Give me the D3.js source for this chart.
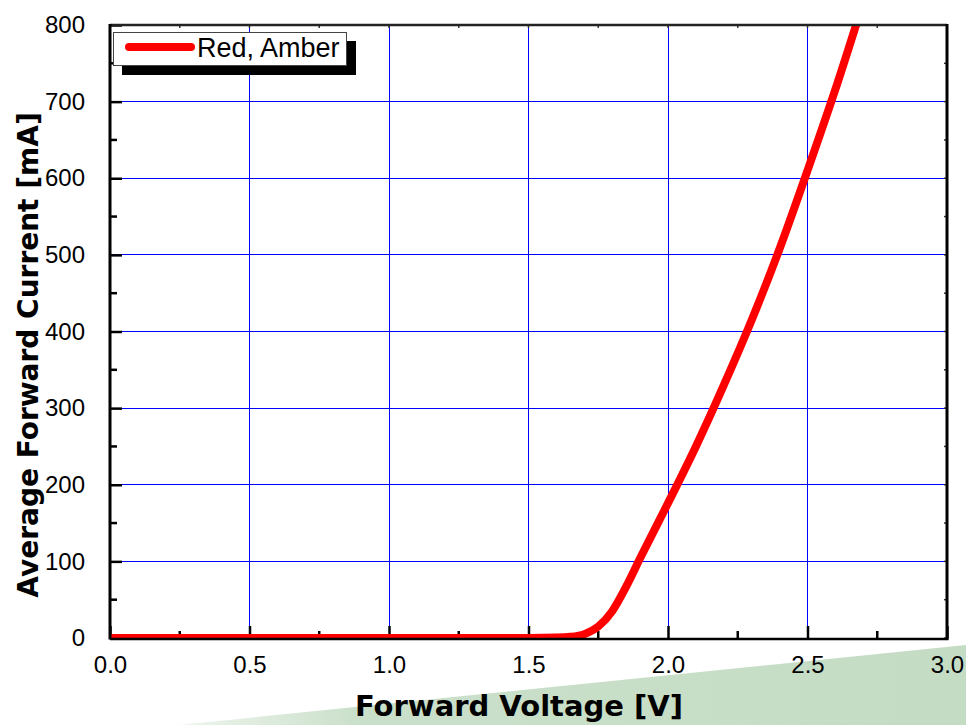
<!DOCTYPE html>
<html><head><meta charset="utf-8">
<script src="https://cdn.jsdelivr.net/npm/d3@7"></script>
<style>html,body{margin:0;padding:0;background:#fff;}svg{display:block;}</style>
</head><body>
<script>
const voltage = [0, 0.5, 1.0, 1.5, 1.6, 1.65, 1.7, 1.75, 1.8, 1.85, 1.9, 2.0, 2.1, 2.2, 2.3, 2.4, 2.5, 2.6, 2.7];
const current = [0, 0, 0, 0, 0.5, 1.5, 5, 15, 35, 67, 104, 176, 250, 330, 415, 508, 610, 716, 830];
const seriesName = "Red, Amber";
const xTicks = [0, 0.5, 1.0, 1.5, 2.0, 2.5, 3.0];
const yTicks = [0, 100, 200, 300, 400, 500, 600, 700, 800];
const xMinor = [0.25, 0.75, 1.25, 1.75, 2.25, 2.75];
const yMinor = [50, 150, 250, 350, 450, 550, 650, 750];

const W = 966, H = 725;
const L = 110, R = 947, T = 25, B = 638;
const svg = d3.select("body").append("svg").attr("width", W).attr("height", H);

// decorative green band
const defs = svg.append("defs");
const g1 = defs.append("linearGradient").attr("id","gfade").attr("x1","0").attr("x2","1").attr("y1","0").attr("y2","0");
g1.append("stop").attr("offset","0").attr("stop-color","#c4dcc4").attr("stop-opacity",0);
g1.append("stop").attr("offset","0.3").attr("stop-color","#c4dcc4").attr("stop-opacity",0.9);
g1.append("stop").attr("offset","1").attr("stop-color","#c4dcc4").attr("stop-opacity",1);
svg.append("path").attr("d","M100,733 L966,645 L966,725 L100,725 Z").attr("fill","url(#gfade)");

const x = d3.scaleLinear().domain([0, 3]).range([L, R]);
const y = d3.scaleLinear().domain([0, 800]).range([B, T]);

defs.append("clipPath").attr("id","clip").append("rect").attr("x",L).attr("y",T).attr("width",R-L).attr("height",B-T);

svg.append("rect").attr("x",L).attr("y",T).attr("width",R-L).attr("height",B-T).attr("fill","#fff");

// grid
svg.append("g").selectAll("line").data(xTicks.filter(v=>v>0&&v<3)).join("line")
  .attr("x1",d=>x(d)).attr("x2",d=>x(d)).attr("y1",T).attr("y2",B)
  .attr("stroke","#0000ff").attr("stroke-width",1).attr("shape-rendering","crispEdges");
svg.append("g").selectAll("line").data(yTicks.filter(v=>v>0&&v<800)).join("line")
  .attr("y1",d=>y(d)).attr("y2",d=>y(d)).attr("x1",L).attr("x2",R)
  .attr("stroke","#0000ff").attr("stroke-width",1).attr("shape-rendering","crispEdges");

// axes with inward ticks
const font = "'Liberation Sans', Arial, sans-serif";
const xAxis = d3.axisBottom(x).tickValues(xTicks).tickFormat(d3.format(".1f")).tickSizeInner(-12).tickSizeOuter(0).tickPadding(18);
const gx = svg.append("g").attr("transform",`translate(0,${B})`).call(xAxis);
gx.select(".domain").remove();
gx.selectAll(".tick line").attr("stroke","#000").attr("stroke-width",2.5);
gx.selectAll(".tick text").attr("font-family",font).attr("font-size",24).attr("fill","#000");
svg.append("g").selectAll("line").data(xMinor).join("line")
  .attr("x1",d=>x(d)).attr("x2",d=>x(d)).attr("y1",B).attr("y2",B-7).attr("stroke","#000").attr("stroke-width",2.5);

const yAxis = d3.axisLeft(y).tickValues(yTicks).tickFormat(d3.format("d")).tickSizeInner(-12).tickSizeOuter(0).tickPadding(25);
const gy = svg.append("g").attr("transform",`translate(${L},0)`).call(yAxis);
gy.select(".domain").remove();
gy.selectAll(".tick line").attr("stroke","#000").attr("stroke-width",2.5);
gy.selectAll(".tick text").attr("font-family",font).attr("font-size",24).attr("fill","#000");
svg.append("g").selectAll("line").data(yMinor).join("line")
  .attr("y1",d=>y(d)).attr("y2",d=>y(d)).attr("x1",L).attr("x2",L+7).attr("stroke","#000").attr("stroke-width",2.5);

// top/right small ticks
svg.append("g").selectAll("line").data(xTicks.concat(xMinor)).join("line")
  .attr("x1",d=>x(d)).attr("x2",d=>x(d)).attr("y1",T).attr("y2",T+3).attr("stroke","#333").attr("stroke-width",1.5);
svg.append("g").selectAll("line").data(yTicks.concat(yMinor)).join("line")
  .attr("y1",d=>y(d)).attr("y2",d=>y(d)).attr("x1",R).attr("x2",R-3).attr("stroke","#333").attr("stroke-width",1.5);

// curve
const line = d3.line().x((d,i)=>x(voltage[i])).y(d=>y(d)).curve(d3.curveMonotoneX);
svg.append("path").datum(current).attr("clip-path","url(#clip)")
  .attr("d",line).attr("fill","none").attr("stroke","#ff0000").attr("stroke-width",8).attr("stroke-linejoin","round");

// frame
svg.append("line").attr("x1",L).attr("x2",R).attr("y1",T).attr("y2",T).attr("stroke","#222").attr("stroke-width",2.5);
svg.append("line").attr("x1",R).attr("x2",R).attr("y1",T-1).attr("y2",B+1.5).attr("stroke","#000").attr("stroke-width",3);
svg.append("line").attr("x1",L).attr("x2",L).attr("y1",T-1).attr("y2",B+1.5).attr("stroke","#000").attr("stroke-width",3);
svg.append("line").attr("x1",L).attr("x2",R+1.5).attr("y1",B+1).attr("y2",B+1).attr("stroke","#000").attr("stroke-width",2.5);

// legend
const lg = svg.append("g");
lg.append("rect").attr("x",122).attr("y",41).attr("width",234).attr("height",34).attr("fill","#000");
lg.append("rect").attr("x",113.5).attr("y",32.5).attr("width",233).attr("height",33).attr("fill","#fff").attr("stroke","#444").attr("stroke-width",1);
lg.append("line").attr("x1",129).attr("x2",191).attr("y1",47).attr("y2",47).attr("stroke","#ff0000").attr("stroke-width",8).attr("stroke-linecap","round");
lg.append("text").attr("x",197).attr("y",57).attr("font-family",font).attr("font-size",27).attr("fill","#000").text(seriesName);

// titles
const bfont = "'DejaVu Sans', Verdana, sans-serif";
svg.append("text").attr("x",519).attr("y",716).attr("text-anchor","middle").attr("font-family",bfont).attr("font-weight","bold").attr("font-size",29).attr("fill","#000").text("Forward Voltage [V]");
svg.append("text").attr("transform","translate(38,355) rotate(-90)").attr("text-anchor","middle").attr("font-family",bfont).attr("font-weight","bold").attr("font-size",28).attr("fill","#000").text("Average Forward Current [mA]");
</script>
</body></html>
